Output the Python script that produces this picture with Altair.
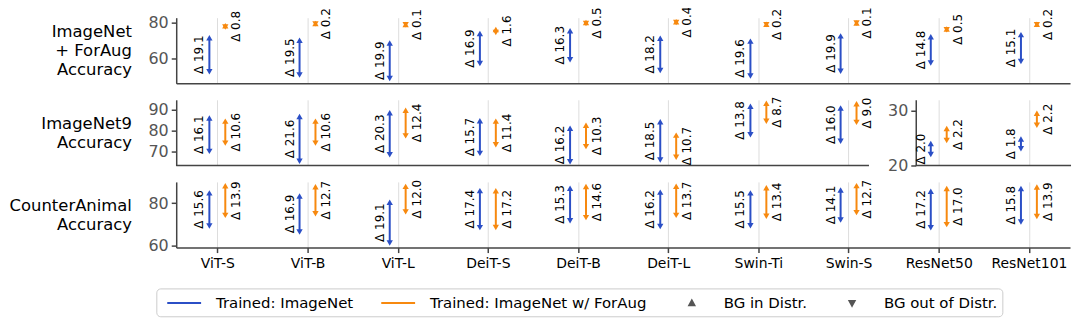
import altair as alt
import pandas as pd

models = ["ViT-S", "ViT-B", "ViT-L", "DeiT-S", "DeiT-B", "DeiT-L",
          "Swin-Ti", "Swin-S", "ResNet50", "ResNet101"]

# Row 1: ImageNet + ForAug accuracy (BG in distr. / BG out of distr.)
r1_base_in = [71.5, 70.05, 68.5, 73.85, 75.4, 71.25, 69.6, 72.55, 72.05, 73.25]
r1_base_out = [52.4, 50.55, 48.6, 56.95, 59.1, 53.05, 50.0, 52.65, 57.25, 58.15]
r1_aug_in = [78.3, 79.5, 78.95, 76.1, 80.05, 80.5, 79.1, 79.85, 76.45, 79.1]
r1_aug_out = [77.5, 79.3, 78.85, 74.5, 79.55, 80.1, 78.9, 79.75, 75.95, 78.9]
r1_base_delta = [19.1, 19.5, 19.9, 16.9, 16.3, 18.2, 19.6, 19.9, 14.8, 15.1]
r1_aug_delta = [0.8, 0.2, 0.1, 1.6, 0.5, 0.4, 0.2, 0.1, 0.5, 0.2]

# Row 2: ImageNet9 accuracy (transformers, main axis)
r2_base_in = [86.0, 86.7, 88.55, 84.65, 81.1, 84.2, 91.7, 90.8]
r2_base_out = [69.9, 65.1, 68.25, 68.95, 64.9, 65.7, 77.9, 74.8]
r2_aug_in = [84.5, 84.5, 89.8, 84.5, 82.5, 77.75, 93.15, 92.9]
r2_aug_out = [73.9, 73.9, 77.4, 73.1, 72.2, 67.05, 84.45, 83.9]
r2_base_delta = [16.1, 21.6, 20.3, 15.7, 16.2, 18.5, 13.8, 16.0]
r2_aug_delta = [10.6, 10.6, 12.4, 11.4, 10.3, 10.7, 8.7, 9.0]

# Row 2: ImageNet9 accuracy (ResNets, inset axis)
r2r_base_in = [24.0, 24.85]
r2r_base_out = [22.0, 23.05]
r2r_aug_in = [26.75, 29.55]
r2r_aug_out = [24.55, 27.35]
r2r_base_delta = [2.0, 1.8]
r2r_aug_delta = [2.2, 2.2]

# Row 3: CounterAnimal accuracy
r3_base_in = [84.85, 83.35, 80.4, 85.9, 87.05, 85.2, 84.85, 86.2, 85.65, 86.9]
r3_base_out = [69.25, 66.45, 61.3, 68.5, 71.75, 69.0, 69.35, 72.1, 68.45, 71.1]
r3_aug_in = [88.15, 87.7, 87.9, 85.8, 87.8, 87.95, 87.25, 88.25, 86.9, 87.65]
r3_aug_out = [74.25, 75.0, 75.9, 68.6, 73.2, 74.25, 73.85, 75.55, 69.9, 73.75]
r3_base_delta = [15.6, 16.9, 19.1, 17.4, 15.3, 16.2, 15.5, 14.1, 17.2, 15.8]
r3_aug_delta = [13.9, 12.7, 12.0, 17.2, 14.6, 13.7, 13.4, 12.7, 17.0, 13.9]

legend_labels = ["Trained: ImageNet", "Trained: ImageNet w/ ForAug",
                 "BG in Distr.", "BG out of Distr."]

BLUE = "#2b4fc6"
ORANGE = "#f7890f"
GREY = "#555555"
SPINE = "#444444"
FONT = "DejaVu Sans"
W = 898
H = 66


def frame(names, b_in, b_out, a_in, a_out, b_d, a_d):
    rows = []
    for i, m in enumerate(names):
        rows.append(dict(model=m, train="base", top=b_in[i], bot=b_out[i], delta=b_d[i]))
        rows.append(dict(model=m, train="aug", top=a_in[i], bot=a_out[i], delta=a_d[i]))
    return pd.DataFrame(rows)


def panel(df, ydomain, yticks, ytitle, show_x, x_domain_line=True, y_offset=0):
    xscale = alt.Scale(type="point", domain=models, padding=0.456, align=0.5)
    if show_x:
        xaxis = alt.Axis(title=None, labels=True, ticks=True, tickSize=5, tickWidth=1.5,
                         tickColor=SPINE, labelFontSize=14, labelColor="black",
                         labelAngle=0, labelPadding=4, grid=True, gridColor="#dddddd",
                         domainColor=SPINE, domainWidth=1.5)
    else:
        xaxis = alt.Axis(title=None, labels=False, ticks=False, grid=True,
                         gridColor="#dddddd", domain=x_domain_line,
                         domainColor=SPINE, domainWidth=1.5)
    yscale = alt.Scale(domain=ydomain, nice=False, zero=False)
    yargs = dict(values=yticks, grid=False, domainColor=SPINE, domainWidth=1.5,
                 tickColor=SPINE, tickWidth=1.5, tickSize=5, labelFontSize=16,
                 labelColor=GREY, labelPadding=3, orient="left")
    if ytitle is not None:
        yaxis = alt.Axis(title=ytitle, titleAngle=0, titleAlign="right",
                         titleBaseline="middle", titleX=-45,
                         titleY=H / 2 - (len(ytitle) - 1) * 9.5,
                         titleFontSize=16.5, titleFontWeight="normal",
                         titleColor="black", titleLineHeight=19, **yargs)
    else:
        yaxis = alt.Axis(title=None, offset=y_offset, **yargs)

    x = alt.X("model:N", scale=xscale, axis=xaxis)
    layers = []
    for t, c, off, toff in [("base", BLUE, -8, -18), ("aug", ORANGE, 8, 19)]:
        b = alt.Chart(df).transform_filter(alt.datum.train == t)
        layers.append(b.mark_rule(color=c, strokeWidth=2, xOffset=off).encode(
            x=x, y=alt.Y("top:Q", scale=yscale, axis=yaxis), y2="bot:Q"))
        layers.append(b.mark_point(shape="triangle-up", filled=True, color=c, size=40,
                                   opacity=1, xOffset=off).encode(
            x=x, y=alt.Y("top:Q", scale=yscale, axis=yaxis)))
        layers.append(b.mark_point(shape="triangle-down", filled=True, color=c, size=40,
                                   opacity=1, xOffset=off).encode(
            x=x, y=alt.Y("bot:Q", scale=yscale, axis=yaxis)))
        layers.append(b.transform_calculate(
            mid="(datum.top + datum.bot) / 2",
            lab="'Δ ' + format(datum.delta, '.1f')",
        ).mark_text(angle=270, fontSize=12, color="black", align="center",
                    baseline="middle", xOffset=toff).encode(
            x=x, y=alt.Y("mid:Q", scale=yscale, axis=yaxis), text="lab:N"))
    return layers


df1 = frame(models, r1_base_in, r1_base_out, r1_aug_in, r1_aug_out, r1_base_delta, r1_aug_delta)
df2 = frame(models[:8], r2_base_in, r2_base_out, r2_aug_in, r2_aug_out, r2_base_delta, r2_aug_delta)
df2r = frame(models[8:], r2r_base_in, r2r_base_out, r2r_aug_in, r2r_aug_out, r2r_base_delta, r2r_aug_delta)
df3 = frame(models, r3_base_in, r3_base_out, r3_aug_in, r3_aug_out, r3_base_delta, r3_aug_delta)

row1 = alt.layer(*panel(df1, [45.8, 82.8], [60, 80],
                        ["ImageNet", "+ ForAug", "Accuracy"], False)
                 ).properties(width=W, height=H)

# broken bottom spine of the ImageNet9 row (main part / ResNet inset)
spine_df = pd.DataFrame({"s": [0]})
spine_l = alt.Chart(spine_df).mark_rule(color=SPINE, strokeWidth=1.5).encode(
    x=alt.value(0), x2=alt.value(696), y=alt.value(H))
spine_r = alt.Chart(spine_df).mark_rule(color=SPINE, strokeWidth=1.5).encode(
    x=alt.value(743), x2=alt.value(W + 1), y=alt.value(H))

row2_main = alt.layer(*panel(df2, [63.1, 94.8], [70, 80, 90],
                             ["ImageNet9", "Accuracy"], False, x_domain_line=False),
                      spine_l, spine_r)
row2_inset = alt.layer(*panel(df2r, [20, 32], [20, 30], None, False,
                              x_domain_line=False, y_offset=-743))
row2 = alt.layer(row2_main, row2_inset).resolve_scale(y="independent").properties(
    width=W, height=H)

# legend layer (no visible marks; legend entries come from the scale domain)
leg_df = pd.DataFrame({"leg": legend_labels})
line_sym = "M-1,0L3,0"
up_sym = "M1,-0.3L1.3,0.25L0.7,0.25Z"
down_sym = "M1,0.3L1.3,-0.25L0.7,-0.25Z"
leg_scale_c = alt.Scale(domain=legend_labels, range=[BLUE, ORANGE, GREY, GREY])
leg_scale_s = alt.Scale(domain=legend_labels, range=[line_sym, line_sym, up_sym, down_sym])
leg = alt.Legend(title=None, orient="none", legendX=-20, legendY=107, direction="horizontal",
                 labelFontSize=15, labelColor="black", labelFont=FONT, labelLimit=400,
                 strokeColor="#cccccc", fillColor="white", cornerRadius=4, padding=5,
                 columnPadding=22, labelOffset=31, symbolOffset=5, symbolSize=289,
                 symbolStrokeWidth=2)
legend_layer = alt.Chart(leg_df).transform_filter("false").mark_point(
    filled=False, strokeWidth=2, opacity=1).encode(
    color=alt.Color("leg:N", scale=leg_scale_c, legend=leg),
    fill=alt.Fill("leg:N", scale=leg_scale_c, legend=leg),
    shape=alt.Shape("leg:N", scale=leg_scale_s, legend=leg),
)

row3 = alt.layer(*panel(df3, [59.1, 90], [60, 80],
                        ["CounterAnimal", "Accuracy"], True),
                 legend_layer).properties(width=W, height=H)

chart = alt.vconcat(row1, row2, row3, spacing=16.5, bounds="flush").resolve_scale(
    color="independent", fill="independent", shape="independent"
).properties(
    padding={"left": 0, "top": -3, "right": 5, "bottom": 0}
).configure(font=FONT).configure_view(stroke=None)

chart.save("out.html", embed_options={"renderer": "svg", "actions": False})
